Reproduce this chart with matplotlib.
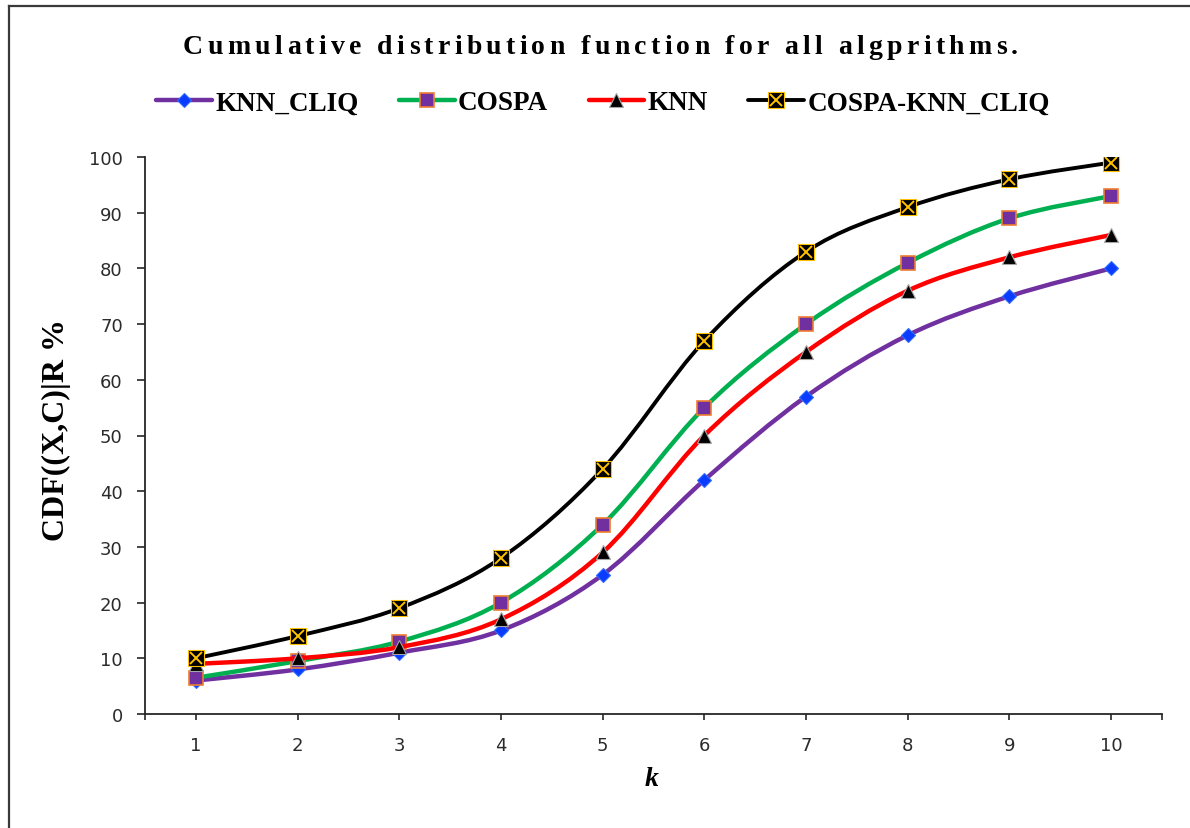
import matplotlib
matplotlib.use("Agg")
import matplotlib.pyplot as plt
from matplotlib.path import Path
from matplotlib.patches import PathPatch
from matplotlib.lines import Line2D
from matplotlib.legend_handler import HandlerTuple
import numpy as np

# ---- data ----
k_values = [1, 2, 3, 4, 5, 6, 7, 8, 9, 10]
knn_cliq = [6, 8, 11, 15, 25, 42, 57, 68, 75, 80]
cospa = [6.5, 9.5, 13, 20, 34, 55, 70, 81, 89, 93]
knn = [9, 10, 12, 17, 29, 50, 65, 76, 82, 86]
cospa_knn_cliq = [10, 14, 19, 28, 44, 67, 83, 91, 96, 99]
series_names = ["KNN_CLIQ", "COSPA", "KNN", "COSPA-KNN_CLIQ"]
y_ticks = [0, 10, 20, 30, 40, 50, 60, 70, 80, 90, 100]

SERIF = ["Liberation Serif", "DejaVu Serif"]
SANS = ["DejaVu Sans"]

W, H = 1190, 829
fig = plt.figure(figsize=(W / 100, H / 100), dpi=100)

# plot area in pixel coordinates
left, right, top, bottom = 145, 1162, 158, 715
ax = fig.add_axes([left / W, 1 - bottom / H, (right - left) / W, (bottom - top) / H])
ax.set_xlim(0.5, 10.5)
ax.set_ylim(0, 100)


def smooth_path(xs, ys):
    """Cubic Bezier path through the points (Catmull-Rom style control points)."""
    pts = np.column_stack([xs, ys]).astype(float)
    n = len(pts)
    verts = [pts[0]]
    codes = [Path.MOVETO]
    for i in range(n - 1):
        p0 = pts[i - 1] if i > 0 else pts[i]
        p1 = pts[i]
        p2 = pts[i + 1]
        p3 = pts[i + 2] if i + 2 < n else pts[i + 1]
        c1 = p1 + (p2 - p0) / 6.0
        c2 = p2 - (p3 - p1) / 6.0
        verts += [c1, c2, p2]
        codes += [Path.CURVE4] * 3
    return Path(verts, codes)


styles = [
    dict(color="#7030A0", lw=3.2, marker="D", ms=7.5, mfc="#0A3CFF", mec="#2F6BFF", mew=0.8),
    dict(color="#00B050", lw=3.2, marker="s", ms=10.5, mfc="#7030A0", mec="#ED7D31", mew=1.2),
    dict(color="#FF0000", lw=3.2, marker="^", ms=10, mfc="#000000", mec="#A6A6A6", mew=0.8),
    dict(color="#000000", lw=2.8, marker="s", ms=11, mfc="#000000", mec="#FFC000", mew=0.8),
]
all_series = [knn_cliq, cospa, knn, cospa_knn_cliq]

handles = []
for i, (vals, st) in enumerate(zip(all_series, styles)):
    z = 3 + i * 2
    ax.add_patch(PathPatch(smooth_path(k_values, vals), fill=False, edgecolor=st["color"],
                           lw=st["lw"], capstyle="round", joinstyle="round", zorder=z))
    ax.plot(k_values, vals, linestyle="none", marker=st["marker"], ms=st["ms"],
            mfc=st["mfc"], mec=st["mec"], mew=st["mew"], zorder=z + 1)
    h = Line2D([], [], color=st["color"], lw=st["lw"], marker=st["marker"], ms=st["ms"],
               mfc=st["mfc"], mec=st["mec"], mew=st["mew"], solid_capstyle="round")
    if i == 3:
        ax.plot(k_values, vals, linestyle="none", marker="x", ms=st["ms"] * 0.8,
                mec="#FFC000", mew=1.4, zorder=z + 1.5)
        hx = Line2D([], [], linestyle="none", marker="x", ms=st["ms"] * 0.8,
                    mec="#FFC000", mew=1.4)
        h = (h, hx)
    handles.append(h)

# ---- axes styling ----
for s in ["top", "right"]:
    ax.spines[s].set_visible(False)
for s in ["left", "bottom"]:
    ax.spines[s].set_color("#262626")
    ax.spines[s].set_linewidth(1.3)

ax.set_xticks(k_values)
ax.set_xticklabels([str(k) for k in k_values])
ax.set_xticks([0.5, 10.5], minor=True)
ax.set_yticks(y_ticks)
ax.set_yticklabels([str(v) for v in y_ticks])
ax.tick_params(axis="both", which="both", direction="out", color="#262626", width=1.2,
               labelsize=13, labelcolor="#2b2b2b")
ax.tick_params(axis="y", length=6, pad=10)
ax.tick_params(axis="x", which="both", length=4.5, pad=11)
for lab in ax.get_xticklabels() + ax.get_yticklabels():
    lab.set_family(SANS)

ax.set_ylabel("CDF((X,C)|R %", family=SERIF, fontweight="bold", fontsize=23)
ax.yaxis.set_label_coords(-74 / (right - left), 0.512)

fig.text(652 / W, 1 - 780 / H, "k", ha="center", va="center", family=SERIF,
         fontweight="bold", fontstyle="italic", fontsize=20)

# ---- legend ----
leg = fig.legend(handles, series_names, loc="center", bbox_to_anchor=(603 / W, 1 - 104 / H),
                 ncol=4, frameon=False, handlelength=2.05, handletextpad=0.12,
                 columnspacing=1.5, borderaxespad=0,
                 handler_map={tuple: HandlerTuple(ndivide=1)},
                 prop=dict(family=SERIF, weight="bold", size=19.5))

# ---- letter-spaced title ----
title = "Cumulative distribution function for all algprithms."
renderer = fig.canvas.get_renderer()
tkw = dict(family=SERIF, fontweight="bold", fontsize=20)


def text_width(s):
    t = fig.text(0, 0, s + "|", **tkw)
    w = t.get_window_extent(renderer).width
    t.remove()
    return w


bar_w = text_width("")
offsets = [text_width(title[:i]) - bar_w for i in range(len(title) + 1)]
natural = offsets[-1]
x_start, x_end = 183, 1018
extra = ((x_end - x_start) - natural) / (len(title) - 1)
for i, ch in enumerate(title):
    if ch == " ":
        continue
    fig.text((x_start + offsets[i] + i * extra) / W, 1 - 47 / H, ch, ha="left",
             va="center", **tkw)

# ---- outer chart border (top and left edges) ----
fig.add_artist(Line2D([9 / W, 9 / W], [0, 1 - 7 / H], transform=fig.transFigure,
                      color="#3A3A3A", lw=1.6))
fig.add_artist(Line2D([9 / W, 1], [1 - 7 / H, 1 - 7 / H], transform=fig.transFigure,
                      color="#3A3A3A", lw=1.6))

fig.savefig("out.png", dpi=100, facecolor="white")
